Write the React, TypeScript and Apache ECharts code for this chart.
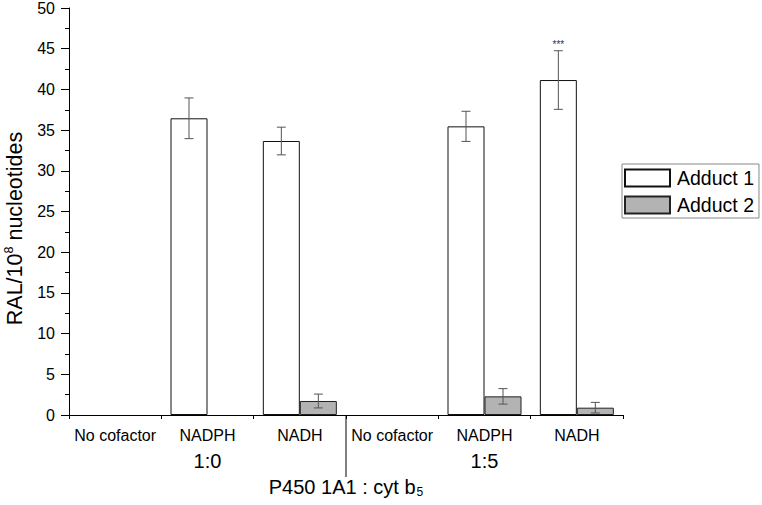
import React, { useEffect, useRef } from "react";
import * as echarts from "echarts";

const categories = ["No cofactor", "NADPH", "NADH", "No cofactor", "NADPH", "NADH"];
const ratioLabels = ["", "1:0", "", "", "1:5", ""];
const adduct1 = [0, 36.45, 33.66, 0, 35.46, 41.15];
const adduct1Err = [0, 2.5, 1.7, 0, 1.85, 3.6];
const adduct2 = [0, 0, 1.72, 0, 2.29, 0.9];
const adduct2Err = [0, 0, 0.85, 0, 0.95, 0.65];
const annotations1 = ["", "", "", "", "", "***"];
const yTicks = { min: 0, max: 50, interval: 5 };
const seriesNames = ["Adduct 1", "Adduct 2"];
const xTitle = "P450 1A1 : cyt b";
const xTitleSub = "5";

const BAR_W = 37;
const FONT = "'Liberation Sans', Arial, sans-serif";

export default function App() {
  const ref = useRef<HTMLDivElement>(null);
  useEffect(() => {
    document.body.style.margin = "0";
    const chart = echarts.init(ref.current!, undefined, { renderer: "svg" });
    const ids = categories.map((_, i) => String(i));
    const hideZero = (arr: number[]) => arr.map((v) => (v === 0 ? null : v));
    const errSeries = (vals: number[], errs: number[], offset: number, notes: string[] | null) => ({
      type: "custom",
      xAxisIndex: 0,
      z: 5,
      silent: true,
      data: vals.map((v, i) => [i, v, errs[i]]),
      renderItem: (params: any, api: any) => {
        const i = api.value(0);
        const v = api.value(1);
        const e = api.value(2);
        const children: any[] = [];
        const c = api.coord([i, v]);
        const x = c[0] + offset;
        if (e > 0) {
          const top = api.coord([i, v + e])[1];
          const bot = api.coord([i, v - e])[1];
          const st = { stroke: "#555", lineWidth: 1 };
          children.push({ type: "line", shape: { x1: x, y1: top, x2: x, y2: bot }, style: st });
          children.push({ type: "line", shape: { x1: x - 4.5, y1: top, x2: x + 4.5, y2: top }, style: st });
          children.push({ type: "line", shape: { x1: x - 4.5, y1: bot, x2: x + 4.5, y2: bot }, style: st });
          const note = notes ? notes[params.dataIndex] : "";
          if (note) {
            children.push({
              type: "text",
              x: x,
              y: top - 1,
              style: { text: note, fontSize: 10, fontFamily: FONT, fill: "#333", align: "center", verticalAlign: "bottom" },
            });
          }
        }
        return { type: "group", children };
      },
    });
    chart.setOption({
      animation: false,
      grid: { left: 69, right: 139, top: 8, bottom: 90, containLabel: false, outerBoundsMode: "none" },
      legend: {
        orient: "vertical",
        left: 622,
        top: 164,
        data: seriesNames,
        itemWidth: 45,
        itemHeight: 17,
        itemGap: 7,
        padding: [4, 5, 3, 2],
        borderColor: "#888",
        borderWidth: 1,
        icon: "rect",
        textStyle: { fontSize: 19.5, fontFamily: FONT, color: "#000", padding: [0, 0, 0, 2] },
      },
      xAxis: [
        {
          type: "category",
          data: ids,
          position: "bottom",
          axisLine: { lineStyle: { color: "#000", width: 1 } },
          axisTick: { alignWithLabel: true, length: 8, lineStyle: { color: "#000" } },
          axisLabel: {
            interval: 0,
            margin: 8,
            fontFamily: FONT,
            color: "#000",
            rich: {
              a: { fontSize: 16, lineHeight: 25, fontFamily: FONT, color: "#000" },
              b: { fontSize: 20, lineHeight: 25, fontFamily: FONT, color: "#000" },
            },
            formatter: (v: string) => {
              const i = Number(v);
              return ratioLabels[i]
                ? "{a|" + categories[i] + "}\n{b|" + ratioLabels[i] + "}"
                : "{a|" + categories[i] + "}";
            },
          },
          splitLine: { show: false },
        },
        {
          type: "category",
          data: ids,
          position: "bottom",
          axisLine: { show: false },
          axisTick: { show: true, length: 4, lineStyle: { color: "#000" } },
          axisLabel: { show: false },
          splitLine: { show: false },
        },
      ],
      yAxis: {
        type: "value",
        min: yTicks.min,
        max: yTicks.max,
        interval: yTicks.interval,
        name: "RAL/10{sup|8} nucleotides",
        nameLocation: "middle",
        nameGap: 41,
        nameTextStyle: {
          fontSize: 21.5,
          fontFamily: FONT,
          color: "#000",
          padding: [0, 34, 0, 0],
          rich: { sup: { fontSize: 12.5, fontFamily: FONT, color: "#000", padding: [0, 0, 12, 0] } },
        },
        axisLine: { show: true, lineStyle: { color: "#000", width: 1 } },
        axisTick: { show: true, length: 8, lineStyle: { color: "#000" } },
        minorTick: { show: true, splitNumber: 2, length: 4, lineStyle: { color: "#000" } },
        axisLabel: { fontSize: 16, fontFamily: FONT, color: "#000", margin: 14 },
        splitLine: { show: false },
      },
      series: [
        {
          name: seriesNames[0],
          type: "bar",
          xAxisIndex: 0,
          data: hideZero(adduct1),
          barWidth: BAR_W,
          barGap: "0%",
          itemStyle: { color: "#fff", borderColor: "#111", borderWidth: 1 },
        },
        {
          name: seriesNames[1],
          type: "bar",
          xAxisIndex: 0,
          data: hideZero(adduct2),
          barWidth: BAR_W,
          barGap: "0%",
          itemStyle: { color: "#b3b3b3", borderColor: "#222", borderWidth: 1 },
        },
        errSeries(adduct1, adduct1Err, -BAR_W / 2, annotations1),
        errSeries(adduct2, adduct2Err, BAR_W / 2, null),
      ],
    });
    const pA = chart.convertToPixel({ xAxisIndex: 0, yAxisIndex: 0 } as any, [2, 0]) as number[];
    const pB = chart.convertToPixel({ xAxisIndex: 0, yAxisIndex: 0 } as any, [3, 0]) as number[];
    const midX = (pA[0] + pB[0]) / 2;
    const axisY = pA[1];
    chart.setOption({
      graphic: [
        {
          type: "line",
          shape: { x1: midX, y1: axisY, x2: midX, y2: axisY + 62 },
          style: { stroke: "#000", lineWidth: 1 },
        },
        {
          type: "text",
          x: midX,
          y: axisY + 61,
          style: {
            text: xTitle + "{sub|" + xTitleSub + "}",
            fontSize: 20,
            fontFamily: FONT,
            fill: "#000",
            align: "center",
            verticalAlign: "top",
            rich: { sub: { fontSize: 12, fontFamily: FONT, fill: "#000", padding: [10, 0, 0, 1] } },
          },
        },
      ],
    });
    return () => chart.dispose();
  }, []);
  return <div ref={ref} style={{ width: 762, height: 505 }} />;
}
